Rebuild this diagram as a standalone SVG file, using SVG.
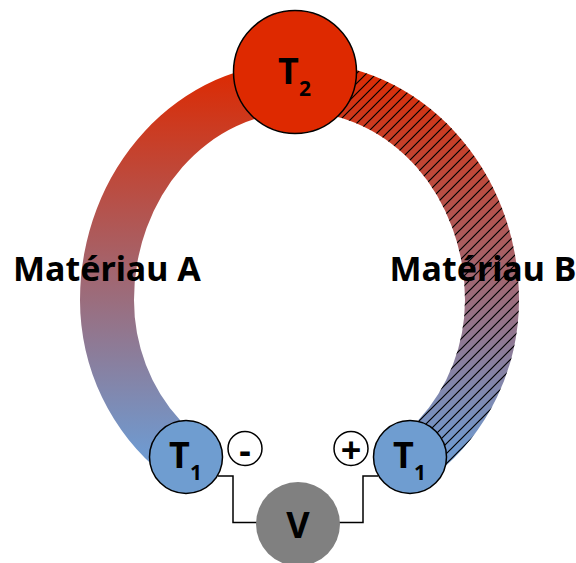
<svg xmlns="http://www.w3.org/2000/svg" width="576" height="563" viewBox="0 0 576 563">
<style>
text{font-family:"Noto Sans","Open Sans","Liberation Sans",sans-serif;font-weight:700;fill:#000}
.big{font-size:34px}.t{font-size:36px}.sub{font-size:21px}.c{font-size:36px;text-anchor:middle}
.node{stroke:#000;stroke-width:1.5}
.wire{fill:none;stroke:#000;stroke-width:1.5}
</style>
<defs>
<linearGradient id="g" gradientUnits="userSpaceOnUse" x1="0" y1="70" x2="0" y2="450">
<stop offset="0" stop-color="#DC2A02"/><stop offset="1" stop-color="#7099CE"/>
</linearGradient>
<pattern id="h" width="10" height="10" patternUnits="userSpaceOnUse">
<path d="M-1 11L11 -1M-1 1L1 -1M9 11L11 9" stroke="#000" stroke-width="1.200" fill="none"/>
</pattern>
<path id="bl" d="M299.500 62A219.500 238 0 0 0 80 300A219.500 222 0 0 0 164 475L186 457L180 420A165.500 173 0 0 1 134 300A165.500 188 0 0 1 299.500 112Z"/>
<path id="br" d="M299.500 62A219.500 238 0 0 1 519 300A219.500 222 0 0 1 435 475L410 457L418.500 420A165.500 173 0 0 0 465 300A165.500 188 0 0 0 299.500 112Z"/>
</defs>
<g id="ring">
<use href="#bl" fill="url(#g)"/>
<use href="#br" fill="url(#g)"/>
<use href="#br" fill="url(#h)"/>
</g>
<g id="connectors">
<path class="wire" d="M218 476H233V522.500H257"/>
<path class="wire" d="M378 476H363V522.500H339"/>
</g>
<g id="T2"><circle class="node" cx="295" cy="72" r="61.500" fill="#DE2900"/><text class="t" x="278" y="84">T</text><text class="sub" x="299" y="96">2</text></g>
<g id="T1-left"><circle class="node" cx="186" cy="457" r="36.500" fill="#6F9DD0"/><text class="t" x="169" y="468">T</text><text class="sub" x="190" y="480">1</text></g>
<g id="T1-right"><circle class="node" cx="410" cy="457" r="36.500" fill="#6F9DD0"/><text class="t" x="393" y="468">T</text><text class="sub" x="414" y="480">1</text></g>
<g id="V"><circle cx="298" cy="524" r="42" fill="#808080"/><text class="c" x="298" y="538">V</text></g>
<g id="minus"><circle class="node" cx="245" cy="448.500" r="17" fill="#fff"/><text class="c" x="245" y="463">-</text></g>
<g id="plus"><circle class="node" cx="351" cy="448.500" r="17" fill="#fff"/><text class="c" x="351" y="463">+</text></g>
<g id="labels">
<text class="big" x="13" y="281">Matériau A</text>
<text class="big" x="389.500" y="281">Matériau B</text>
</g>
</svg>
